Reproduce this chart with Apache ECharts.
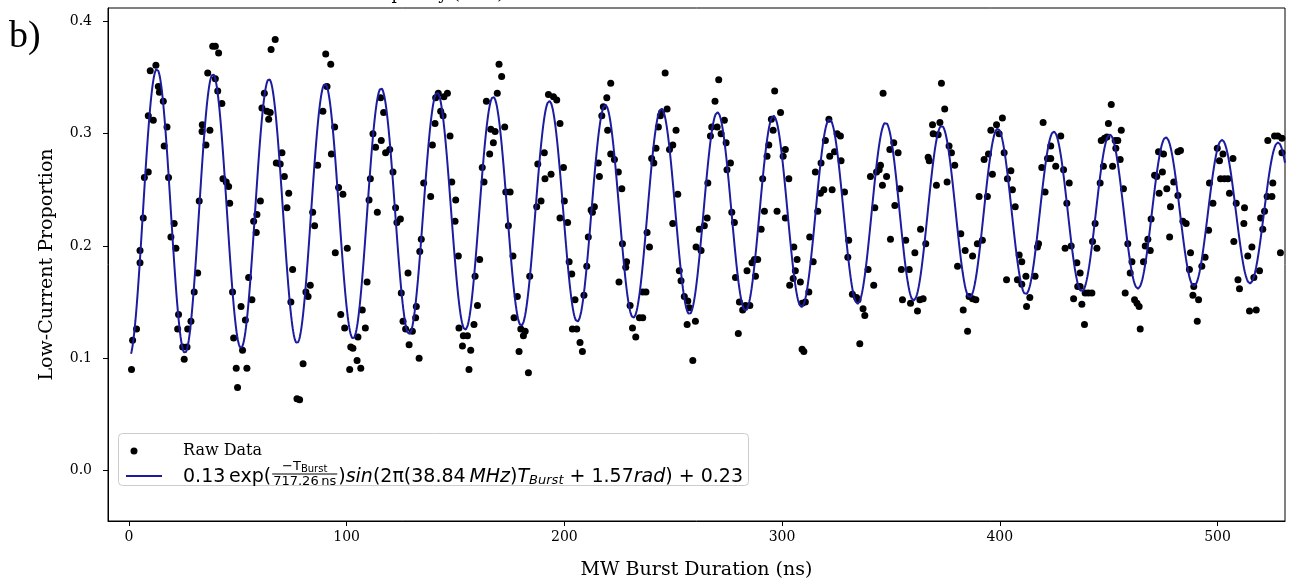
<!DOCTYPE html>
<html>
<head>
<meta charset="utf-8">
<script src="https://cdn.jsdelivr.net/npm/echarts@6/dist/echarts.min.js"></script>
<style>
  html, body { margin: 0; padding: 0; background: #ffffff; }
  #chart { width: 1291px; height: 583px; }
</style>
</head>
<body>
<div id="chart"></div>
<script>
// Rabi oscillation: low-current proportion vs. microwave burst duration
const burstNs = [
  1.2,1.7,3.5,5.1,5.1,6.6,7.1,8.9,8.9,11.2,9.8,12.4,13.5,14.0,15.8,17.5,16.2,18.2,20.8,19.3,21.6,22.8,22.4,24.7,25.4,26.7,27.0,28.5,30.0,31.6,32.3,33.7,33.6,37.2,35.4,36.2,38.5,
  39.7,41.2,39.7,40.8,42.7,43.2,44.7,45.8,46.3,47.6,48.1,51.5,53.5,52.2,49.3,54.2,49.9,55.0,56.5,57.3,58.5,58.8,60.4,61.1,62.2,63.4,64.2,64.9,65.3,67.2,70.3,67.7,69.5,71.4,73.4,72.6,75.2,74.4,80.0,77.2,78.4,81.3,82.3,83.3,84.4,85.3,86.7,
  90.4,92.7,91.0,89.1,94.5,93.0,96.3,98.3,94.8,100.3,97.3,99.1,101.9,102.9,105.2,104.8,101.4,106.5,107.2,108.6,109.4,110.3,110.9,112.1,113.3,114.1,115.9,115.6,117.0,117.9,119.8,121.3,122.5,124.7,123.1,128.2,125.1,125.9,127.1,130.2,128.7,133.3,131.7,132.0,133.6,134.3,135.4,
  138.6,139.4,140.6,142.1,140.9,144.7,146.3,143.2,144.3,147.5,148.3,150.1,149.8,151.3,151.6,153.6,155.5,153.2,157.0,156.2,158.5,160.1,159.0,161.1,163.1,162.3,165.7,164.2,166.2,168.2,167.4,169.2,171.2,170.0,172.6,173.1,175.1,174.3,176.4,178.4,176.9,180.0,182.0,181.2,179.2,183.5,184.1,
  187.3,189.3,187.8,190.8,191.1,193.9,192.7,195.0,196.5,198.0,199.6,200.0,198.0,201.5,202.2,203.4,204.9,203.7,205.7,207.2,208.3,209.0,210.3,211.0,212.3,213.8,212.9,215.6,216.1,217.2,217.9,219.5,221.3,219.9,221.3,223.0,224.8,226.4,226.7,228.6,228.2,225.1,230.2,231.3,232.8,
  234.5,236.0,236.0,237.5,238.0,239.1,240.1,241.1,242.1,243.2,244.1,244.7,247.2,246.3,251.3,249.8,248.3,252.1,249.8,252.8,253.6,255.1,256.7,257.4,256.4,260.2,259.0,260.5,262.8,262.0,264.3,265.6,265.9,267.1,267.7,270.2,269.2,270.9,272.0,273.5,274.3,276.3,274.7,276.9,278.1,278.6,280.4,281.9,279.9,
  283.2,285.2,283.9,286.2,287.8,287.3,288.8,290.4,291.1,291.9,293.1,293.9,295.1,296.6,295.9,299.3,297.7,300.5,301.5,303.1,301.5,305.4,306.9,306.1,305.1,303.5,308.4,309.2,310.7,312.3,309.2,310.0,314.3,312.7,316.4,315.3,317.9,317.6,319.2,323.0,319.9,321.5,321.9,324.1,325.3,326.8,327.1,328.7,330.6,330.2,
  332.3,334.2,334.9,337.2,338.0,335.7,339.5,342.1,340.6,342.6,343.4,345.2,344.6,346.1,348.0,346.4,349.5,351.3,353.3,354.1,351.8,349.8,356.8,354.8,358.4,355.3,359.0,361.0,362.2,363.3,364.8,363.6,366.0,367.1,367.6,370.9,369.1,369.4,371.7,372.5,373.2,374.7,376.7,377.8,379.3,375.8,
  380.6,382.1,384.1,387.5,383.2,385.2,385.9,387.5,389.0,389.7,392.0,390.5,394.3,392.8,394.8,396.6,395.9,398.5,399.7,401.2,402.0,403.5,405.1,405.8,407.1,408.9,410.1,408.1,403.1,410.1,412.0,413.8,412.3,416.2,417.3,417.8,420.8,419.3,419.9,421.9,423.4,423.4,425.7,428.0,
  429.3,431.9,430.8,430.0,432.8,435.4,436.9,435.8,436.9,433.9,437.7,439.2,440.7,442.3,438.9,442.6,444.6,443.8,446.1,447.6,446.6,448.1,449.9,451.2,449.2,451.8,453.3,453.0,454.2,455.8,455.3,456.8,458.8,457.6,460.7,459.9,461.9,463.0,464.0,464.5,466.0,466.8,468.0,469.1,469.5,471.1,472.1,473.2,472.9,475.2,474.7,476.7,
  478.4,478.0,479.9,481.8,481.8,483.0,484.1,485.6,487.6,487.1,489.1,488.7,491.3,490.7,492.8,494.3,495.9,497.9,496.3,499.9,500.9,501.4,503.2,504.8,502.5,505.5,507.1,508.6,507.5,512.4,512.1,509.4,510.1,513.9,515.8,516.7,514.7,517.8,519.3,519.8,521.6,520.8,522.8,525.0,525.4,523.1,526.2,527.7,529.6,529.6,528.9
];
const lowCurrent = [
  0.090,0.116,0.126,0.185,0.196,0.225,0.261,0.266,0.316,0.312,0.356,0.361,0.342,0.337,0.329,0.306,0.289,0.261,0.220,0.208,0.198,0.139,0.126,0.110,0.099,0.110,0.126,0.133,0.159,0.176,0.240,0.308,0.302,0.303,0.290,0.354,0.378,
  0.378,0.372,0.349,0.338,0.327,0.260,0.257,0.253,0.238,0.159,0.118,0.146,0.134,0.107,0.091,0.091,0.074,0.172,0.152,0.222,0.212,0.228,0.240,0.323,0.336,0.320,0.313,0.319,0.375,0.384,0.283,0.274,0.273,0.262,0.247,0.234,0.179,0.150,0.095,0.064,0.063,0.159,0.155,0.165,0.230,0.218,0.272,
  0.371,0.362,0.342,0.320,0.306,0.282,0.252,0.246,0.194,0.198,0.139,0.127,0.110,0.109,0.119,0.098,0.090,0.091,0.143,0.127,0.168,0.241,0.260,0.300,0.288,0.230,0.294,0.332,0.319,0.283,0.286,0.266,0.234,0.224,0.221,0.176,0.158,0.133,0.126,0.124,0.112,0.100,0.136,0.146,0.195,0.206,0.256,
  0.244,0.290,0.309,0.336,0.332,0.333,0.336,0.320,0.316,0.298,0.257,0.241,0.222,0.191,0.127,0.120,0.120,0.111,0.107,0.090,0.130,0.147,0.173,0.188,0.257,0.270,0.282,0.329,0.304,0.302,0.292,0.336,0.351,0.362,0.306,0.248,0.248,0.218,0.191,0.155,0.136,0.126,0.124,0.120,0.106,0.087,0.173,
  0.235,0.240,0.273,0.283,0.260,0.264,0.335,0.333,0.330,0.309,0.270,0.240,0.225,0.221,0.186,0.175,0.152,0.126,0.126,0.114,0.106,0.156,0.182,0.208,0.232,0.235,0.230,0.274,0.262,0.316,0.324,0.332,0.345,0.303,0.282,0.277,0.266,0.251,0.202,0.186,0.181,0.168,0.147,0.127,0.119,
  0.136,0.136,0.159,0.159,0.212,0.199,0.278,0.274,0.287,0.306,0.316,0.319,0.322,0.354,0.303,0.290,0.286,0.246,0.220,0.178,0.169,0.155,0.151,0.145,0.130,0.133,0.098,0.199,0.196,0.215,0.218,0.225,0.256,0.298,0.306,0.306,0.329,0.348,0.300,0.312,0.292,0.274,0.268,0.230,0.221,0.172,0.150,0.143,0.122,
  0.147,0.147,0.178,0.185,0.173,0.188,0.188,0.215,0.260,0.231,0.280,0.290,0.313,0.338,0.303,0.319,0.231,0.280,0.286,0.260,0.225,0.199,0.188,0.178,0.171,0.165,0.168,0.149,0.150,0.159,0.108,0.106,0.186,0.208,0.231,0.266,0.274,0.247,0.250,0.250,0.294,0.313,0.280,0.284,0.300,0.298,0.276,0.248,0.205,0.190,
  0.157,0.154,0.152,0.144,0.138,0.113,0.179,0.165,0.262,0.234,0.266,0.272,0.268,0.254,0.262,0.336,0.286,0.292,0.283,0.251,0.236,0.206,0.205,0.179,0.179,0.152,0.149,0.194,0.142,0.152,0.153,0.215,0.202,0.279,0.276,0.254,0.308,0.300,0.299,0.310,0.345,0.322,0.289,0.283,0.272,0.257,
  0.182,0.211,0.196,0.191,0.143,0.124,0.155,0.153,0.152,0.202,0.205,0.244,0.244,0.277,0.282,0.264,0.303,0.308,0.300,0.314,0.283,0.260,0.267,0.250,0.235,0.192,0.186,0.170,0.170,0.166,0.173,0.154,0.146,0.173,0.199,0.202,0.248,0.270,0.310,0.278,0.278,0.289,0.271,0.298,
  0.268,0.256,0.238,0.198,0.200,0.185,0.176,0.164,0.164,0.153,0.148,0.158,0.158,0.158,0.130,0.204,0.198,0.220,0.256,0.271,0.294,0.296,0.309,0.326,0.297,0.271,0.287,0.294,0.294,0.303,0.277,0.251,0.202,0.158,0.186,0.176,0.152,0.149,0.146,0.126,0.186,0.200,0.206,0.196,0.224,0.263,0.262,0.247,0.284,0.282,0.266,0.251,
  0.235,0.208,0.257,0.245,0.284,0.285,0.222,0.220,0.194,0.179,0.164,0.156,0.152,0.133,0.182,0.190,0.214,0.238,0.256,0.287,0.276,0.260,0.260,0.260,0.282,0.247,0.278,0.238,0.204,0.234,0.220,0.170,0.162,0.191,0.199,0.172,0.142,0.143,0.178,0.225,0.231,0.215,0.244,0.244,0.256,0.294,0.298,0.298,0.296,0.283,0.194
];

// Damped-sine fit parameters (legend values); the fitted amplitude came out negative,
// the legend prints its magnitude.
const fitAmplitude = -0.13;
const fitTauNs = 717.26;
const fitFreqMHz = 38.84;
const fitPhaseRad = 1.57;
const fitOffset = 0.23;

const xTicks = [0, 100, 200, 300, 400, 500];
const yTicks = [0.0, 0.1, 0.2, 0.3, 0.4];

const rawPoints = burstNs.map((t, i) => [t, lowCurrent[i]]);

const fitCurve = [];
for (let t = 1; t <= 531; t += 0.25) {
  const v = fitOffset + fitAmplitude * Math.exp(-t / fitTauNs) *
    Math.sin(2 * Math.PI * (fitFreqMHz / 1000) * t + fitPhaseRad);
  fitCurve.push([t, v]);
}

const SERIF = '"DejaVu Serif", serif';
const FIT_COLOR = '#1c1ca0';

// Lay out the legend formula as a row of text runs, measuring each run.
const measureCtx = document.createElement('canvas').getContext('2d');
function runWidth(text, size, italic) {
  measureCtx.font = (italic ? 'italic ' : '') + size + 'px "DejaVu Sans"';
  return measureCtx.measureText(text).width;
}
function formulaElements(x0, cy, S) {
  const s2 = Math.round(S * 0.7);
  const s3 = Math.round(S * 0.5);
  const els = [];
  let x = x0;
  function run(text, opt) {
    opt = opt || {};
    const size = opt.size || S;
    const italic = !!opt.italic;
    els.push({
      type: 'text', z: 110,
      style: {
        text: text, x: x, y: cy + (opt.dy || 0),
        font: (italic ? 'italic ' : '') + size + 'px "DejaVu Sans"',
        fill: '#000', verticalAlign: 'middle', align: 'left'
      }
    });
    x += runWidth(text, size, italic);
  }
  run('0.13\u2009exp(');
  // fraction  -T_Burst / 717.26 ns
  const numW = runWidth('\u2212T', s2, false) + runWidth('Burst', s3, false);
  const denW = runWidth('717.26\u2009ns', s2, false);
  const fw = Math.max(numW, denW) + 4;
  const fx = x;
  let nx = fx + (fw - numW) / 2;
  els.push({ type: 'text', z: 110, style: { text: '\u2212T', x: nx, y: cy - 10, font: s2 + 'px "DejaVu Sans"', fill: '#000', verticalAlign: 'middle' } });
  nx += runWidth('\u2212T', s2, false);
  els.push({ type: 'text', z: 110, style: { text: 'Burst', x: nx, y: cy - 8, font: s3 + 'px "DejaVu Sans"', fill: '#000', verticalAlign: 'middle' } });
  els.push({ type: 'line', z: 110, shape: { x1: fx + 1, y1: cy - 3, x2: fx + fw - 1, y2: cy - 3 }, style: { stroke: '#000', lineWidth: 1 } });
  els.push({ type: 'text', z: 110, style: { text: '717.26\u2009ns', x: fx + (fw - denW) / 2, y: cy + 5, font: s2 + 'px "DejaVu Sans"', fill: '#000', verticalAlign: 'middle' } });
  x = fx + fw;
  run(')');
  run('sin', { italic: true });
  run('(2\u03c0(38.84\u2009');
  run('MHz', { italic: true });
  run(')');
  run('T', { italic: true });
  run('Burst', { italic: true, size: s2, dy: 4 });
  run(' + 1.57');
  run('rad', { italic: true });
  run(') + 0.23');
  return els;
}

const chart = echarts.init(document.getElementById('chart'), null, { renderer: 'canvas' });

const legendGraphics = [
  { type: 'rect', z: 100, shape: { x: 118.5, y: 433.5, width: 630, height: 52, r: 4 },
    style: { fill: 'rgba(255,255,255,0.8)', stroke: '#cccccc', lineWidth: 1 } },
  { type: 'circle', z: 110, shape: { cx: 134, cy: 451, r: 3.5 }, style: { fill: '#000' } },
  { type: 'text', z: 110, style: { text: 'Raw Data', x: 183, y: 451, font: '16px ' + SERIF, fill: '#000', verticalAlign: 'middle' } },
  { type: 'line', z: 110, shape: { x1: 126, y1: 476, x2: 162, y2: 476 }, style: { stroke: FIT_COLOR, lineWidth: 2 } }
].concat(formulaElements(183, 477, 19));

const tickFont = { fontFamily: SERIF, fontSize: 14, color: '#000' };

chart.setOption({
  animation: false,
  backgroundColor: '#ffffff',
  grid: {
    left: 108, top: 8, width: 1177, height: 513,
    outerBoundsMode: 'none', containLabel: false,
    show: true, borderColor: '#000', borderWidth: 1, backgroundColor: 'transparent'
  },
  xAxis: {
    type: 'value', min: -9.6, max: 531,
    name: 'MW Burst Duration (ns)', nameLocation: 'middle', nameGap: 40,
    nameTextStyle: { fontFamily: SERIF, fontSize: 19, color: '#000' },
    axisLine: { show: true, onZero: false, lineStyle: { color: '#000', width: 1 } },
    axisTick: { show: true, inside: false, length: 5, lineStyle: { color: '#000' }, customValues: xTicks },
    axisLabel: Object.assign({ show: true, margin: 9, customValues: xTicks, formatter: v => String(v) }, tickFont),
    splitLine: { show: false }
  },
  yAxis: {
    type: 'value', min: -0.045, max: 0.412,
    name: 'Low-Current Proportion', nameLocation: 'middle', nameGap: 51, nameRotate: 90,
    nameTextStyle: { fontFamily: SERIF, fontSize: 19, color: '#000' },
    axisLine: { show: true, onZero: false, lineStyle: { color: '#000', width: 1 } },
    axisTick: { show: true, inside: false, length: 5, lineStyle: { color: '#000' }, customValues: yTicks },
    axisLabel: Object.assign({ show: true, margin: 16, customValues: yTicks, formatter: v => v.toFixed(1) }, tickFont),
    splitLine: { show: false }
  },
  graphic: [
    { type: 'text', left: 9, top: 18, z: 120,
      style: { text: 'b)', font: '38px "Liberation Serif", serif', fill: '#000' } },
    { type: 'text', z: 120,
      style: { text: 'Frequency (GHz)', x: 430, y: 3, font: '17px ' + SERIF, fill: '#000',
               align: 'center', verticalAlign: 'bottom' } }
  ].concat(legendGraphics),
  series: [
    {
      name: 'Raw Data', type: 'scatter', data: rawPoints,
      symbol: 'circle', symbolSize: 7,
      itemStyle: { color: '#000000', opacity: 1 },
      z: 2, silent: true
    },
    {
      name: 'Fit', type: 'line', data: fitCurve,
      showSymbol: false, smooth: false, clip: true,
      lineStyle: { color: FIT_COLOR, width: 2 },
      z: 3, silent: true
    }
  ]
});
</script>
</body>
</html>
